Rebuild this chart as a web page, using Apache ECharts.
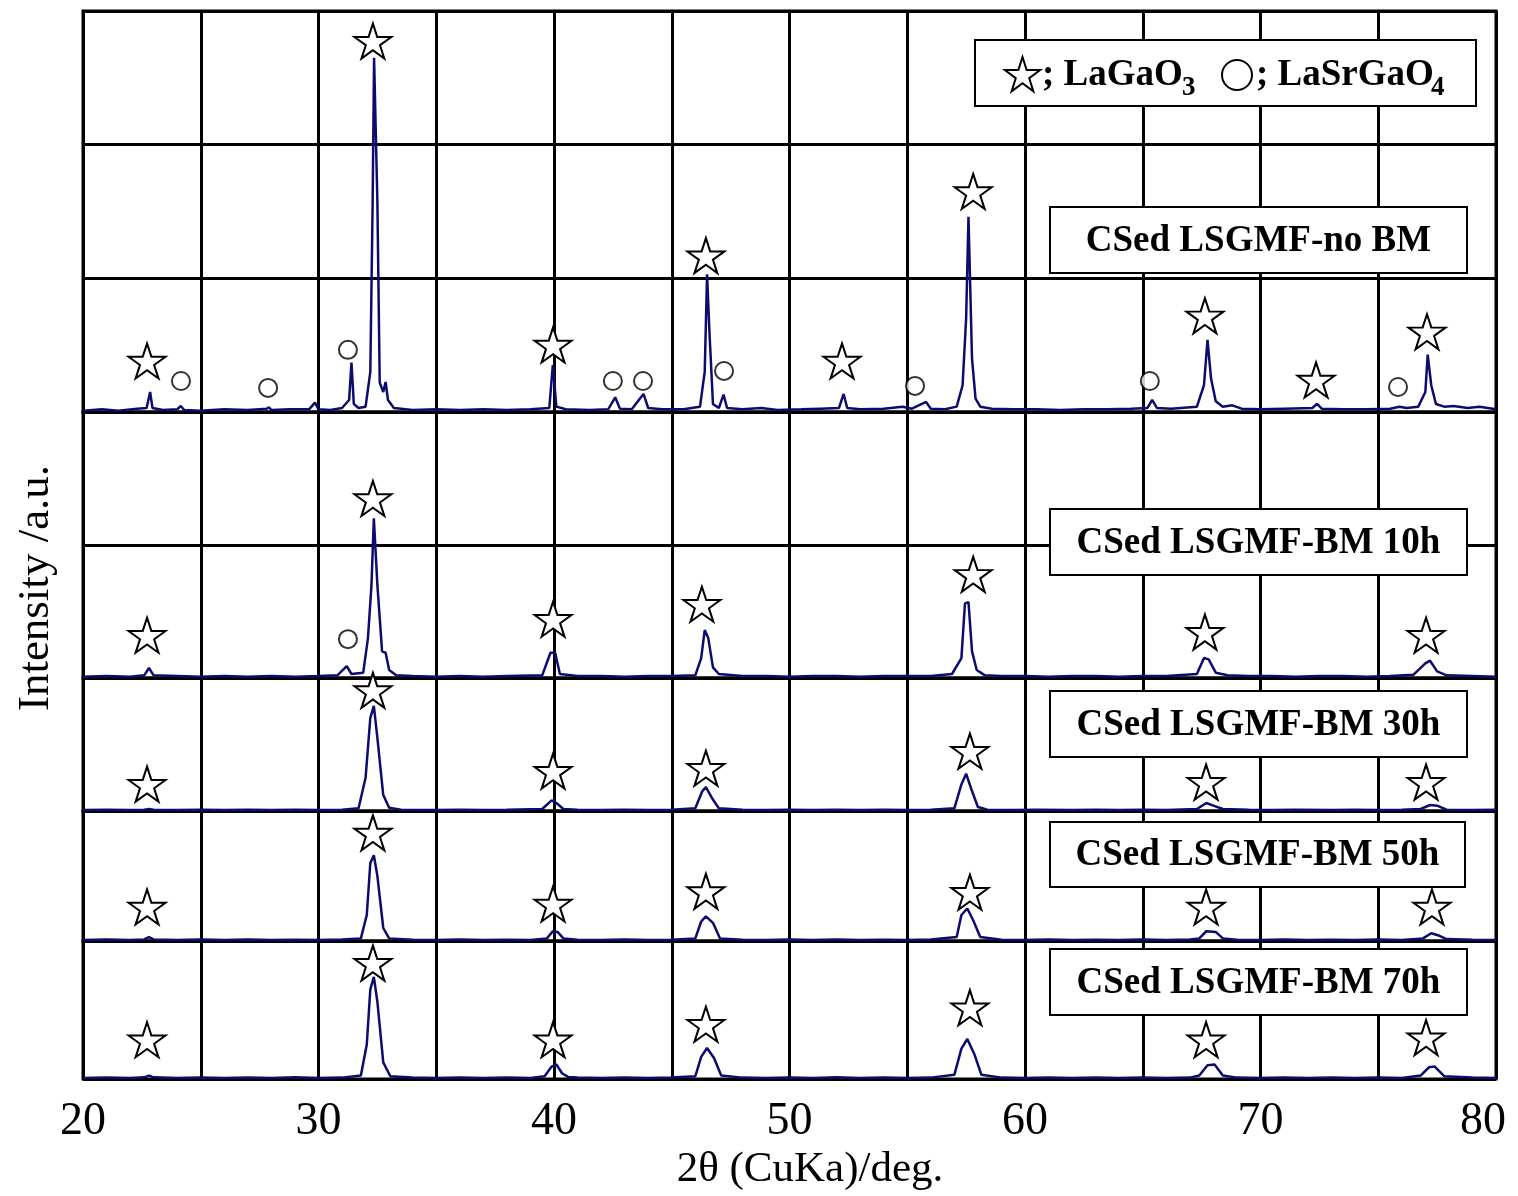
<!DOCTYPE html>
<html><head><meta charset="utf-8">
<script src="https://cdn.jsdelivr.net/npm/echarts@6/dist/echarts.min.js"></script>
<style>html,body{margin:0;padding:0;background:#fff}#c{width:1518px;height:1196px}</style>
</head><body><div id="c"></div>
<script>
// ---------- DATA ----------
const sampleNames = ['CSed LSGMF-no BM','CSed LSGMF-BM 10h','CSed LSGMF-BM 30h','CSed LSGMF-BM 50h','CSed LSGMF-BM 70h'];
const phaseNames = ['LaGaO', '3', 'LaSrGaO', '4'];
const xTickLabels = [20,30,40,50,60,70,80];
const yMaxes = [3000,2000,1000,1000,1000];

const patNoBM = [[20,10],[20.8,20],[21.5,10],[22.3,25],[22.7,30],[22.85,150],[22.95,30],[23.4,15],[24.0,20],[24.15,45],[24.3,15],[25,10],[26,20],[27,15],[27.8,25],[27.9,35],[28.0,15],[28.8,20],[29.6,20],[29.85,70],[30.0,20],[30.5,15],[31.0,30],[31.3,90],[31.4,370],[31.5,60],[31.7,30],[32.0,40],[32.2,300],[32.3,1575],[32.36,2650],[32.44,2650],[32.5,1575],[32.6,220],[32.75,150],[32.85,225],[32.95,90],[33.2,30],[34,15],[35,20],[36,15],[37,20],[38,15],[39,20],[39.8,30],[39.95,350],[40.1,40],[40.5,20],[41.5,15],[42.3,20],[42.6,110],[42.8,25],[43.3,20],[43.8,135],[44.0,30],[44.6,20],[45.5,20],[46.2,40],[46.4,300],[46.5,1030],[46.6,600],[46.75,60],[47.0,30],[47.2,130],[47.35,30],[48,20],[48.8,30],[49.5,15],[50.5,20],[51.3,25],[52.1,30],[52.3,135],[52.45,30],[53,20],[54,25],[54.8,40],[55.2,25],[55.8,75],[56.0,25],[56.6,20],[57.1,40],[57.35,200],[57.5,700],[57.6,1460],[57.75,400],[57.9,100],[58.1,40],[58.6,25],[59.5,20],[60.5,20],[61.5,15],[62.5,20],[63.5,20],[64.5,25],[65.2,30],[65.4,90],[65.6,30],[66.2,25],[67.3,40],[67.6,200],[67.75,540],[67.9,250],[68.1,80],[68.4,40],[68.8,50],[69.2,25],[70,20],[71,25],[72.2,30],[72.4,60],[72.6,25],[73.5,20],[74.5,20],[75.5,25],[75.9,40],[76.2,30],[76.7,40],[77.0,150],[77.1,430],[77.25,200],[77.45,60],[77.8,40],[78.2,45],[78.8,30],[79.3,40],[80,20]];
const patBM10 = [[20,10],[21,15],[22,10],[22.6,20],[22.8,75],[23.0,20],[24,15],[25,10],[26,15],[27,10],[28,15],[29,10],[30,15],[30.8,20],[31.2,90],[31.4,30],[31.9,40],[32.1,300],[32.25,700],[32.35,1200],[32.5,700],[32.7,200],[32.85,190],[33.0,60],[33.3,20],[34,15],[35,10],[36,15],[37,10],[38,15],[39.5,20],[39.85,190],[40.05,190],[40.25,30],[41,15],[42,15],[43,10],[44,15],[45,15],[46.0,20],[46.25,150],[46.4,360],[46.55,300],[46.75,80],[47.0,30],[48,15],[49,15],[50,10],[51,15],[52,15],[53,10],[54,15],[55,15],[56,15],[56.9,30],[57.3,150],[57.45,560],[57.6,570],[57.75,200],[57.95,60],[58.3,20],[59,15],[60,15],[61,10],[62,15],[63,15],[64,10],[65,15],[66,15],[67.3,30],[67.6,150],[67.8,140],[68.1,40],[68.6,20],[69.5,15],[70.5,15],[71.5,10],[72.5,15],[73.5,15],[74.5,10],[75.5,15],[76.5,25],[77.0,110],[77.2,130],[77.5,50],[77.9,20],[79,15],[80,10]];
const patBM30 = [[20,8],[21,10],[22,8],[22.6,10],[22.8,15],[23.0,10],[24,8],[25,10],[26,8],[27,10],[28,8],[29,10],[30,8],[31,10],[31.7,20],[32.0,250],[32.2,700],[32.35,790],[32.5,550],[32.75,120],[33.0,25],[33.5,10],[35,8],[36,10],[37,8],[38,10],[39.5,15],[39.9,80],[40.1,60],[40.4,15],[41,10],[42,8],[43,10],[44,8],[45,10],[46.0,20],[46.3,150],[46.45,180],[46.7,100],[47.0,20],[48,10],[49,8],[50,10],[51,8],[52,10],[53,8],[54,10],[55,8],[56,10],[57.0,20],[57.3,200],[57.5,280],[57.75,150],[58.0,30],[58.4,10],[59.5,8],[60.5,10],[62,8],[63,10],[64,8],[65,10],[66,8],[67.3,15],[67.7,60],[68.0,40],[68.4,15],[69.5,10],[70.5,8],[71.5,10],[73,8],[74,10],[75,8],[76,10],[76.8,15],[77.2,45],[77.5,40],[77.9,10],[79,8],[80,10]];
const patBM50 = [[20,8],[21,12],[22,8],[22.6,12],[22.8,30],[23.0,12],[24,8],[25,12],[26,8],[27,12],[28,8],[29,10],[30,8],[31,12],[31.8,20],[32.05,200],[32.2,600],[32.35,660],[32.5,500],[32.75,100],[33.0,20],[34,10],[35,8],[36,12],[37,8],[38,10],[39,8],[39.7,20],[39.95,75],[40.15,70],[40.4,20],[41,10],[42,8],[43,12],[44,8],[45,10],[46.0,20],[46.25,150],[46.45,190],[46.75,140],[47.05,20],[48,10],[49,8],[50,12],[51,8],[52,12],[53,8],[54,10],[55,8],[56,12],[57.1,30],[57.3,200],[57.55,250],[57.8,160],[58.1,30],[59,10],[60,8],[61,12],[62,8],[63,10],[64,8],[65,12],[66,8],[67,12],[67.4,20],[67.7,75],[68.1,70],[68.4,20],[69,10],[70,8],[71,12],[72,8],[73,10],[74,8],[75,12],[76,8],[76.9,20],[77.25,60],[77.6,40],[77.9,15],[79,10],[80,8]];
const patBM70 = [[20,8],[21,10],[22,8],[22.6,12],[22.8,25],[23.0,12],[24,8],[25,10],[26,8],[27,10],[28,8],[29,12],[30,8],[31,10],[31.8,25],[32.05,250],[32.2,650],[32.35,740],[32.5,560],[32.75,120],[33.05,20],[34,10],[35,8],[36,10],[37,8],[38,10],[39,8],[39.6,20],[39.9,90],[40.1,105],[40.35,40],[40.6,15],[41,10],[42,8],[43,10],[44,8],[45,10],[46.0,20],[46.25,160],[46.5,225],[46.8,150],[47.1,25],[48,10],[49,8],[50,10],[51,8],[52,12],[53,8],[54,10],[55,8],[56,10],[57.0,30],[57.3,220],[57.55,290],[57.85,180],[58.15,30],[59,10],[60,8],[61,10],[62,8],[63,10],[64,8],[65,10],[66,8],[67,10],[67.4,25],[67.75,100],[68.05,105],[68.4,25],[69,10],[70,8],[71,10],[72,8],[73,10],[74,8],[75,10],[76,8],[76.8,25],[77.15,85],[77.4,90],[77.8,20],[79,10],[80,8]];

// phase marker positions [2theta, height]
const starsNoBM = [[22.72,382],[32.31,2775],[39.96,502],[46.45,1170],[52.23,382],[57.8,1650],[67.64,720],[72.36,240],[77.07,600]];
const circlesNoBM = [[24.16,232],[27.86,180],[31.25,465],[42.5,232],[43.78,232],[47.22,307],[55.33,195],[65.3,232],[75.84,187]];
const starsBM10 = [[22.72,322],[32.31,1350],[39.96,442],[46.28,555],[57.8,780],[67.64,345],[77.03,322]];
const circlesBM10 = [[31.25,292]];
const starsBM30 = [[22.72,202],[32.31,907],[39.96,300],[46.45,322],[57.66,450],[67.69,217],[77.03,217]];
const starsBM50 = [[22.72,262],[32.31,832],[39.96,285],[46.45,382],[57.66,375],[67.69,262],[77.28,262]];
const starsBM70 = [[22.72,285],[32.31,840],[39.96,285],[46.45,397],[57.66,517],[67.69,285],[77.03,300]];

const patterns = [patNoBM, patBM10, patBM30, patBM50, patBM70];
const starSets = [starsNoBM, starsBM10, starsBM30, starsBM50, starsBM70];
const circleSets = [circlesNoBM, circlesBM10, [], [], []];

// ---------- LAYOUT ----------
const panels = [{top:11,height:401},{top:412,height:266},{top:678,height:133},{top:811,height:130},{top:941,height:138}];
const LEFT = 83, RIGHT = 22;
const FONT = '"Liberation Serif","Times New Roman",serif';
const LINE = '#0c0c70';
const STAR = 'path://M50,0L61.2,34.5L97.6,34.5L68.2,55.9L79.4,90.5L50,69.1L20.6,90.5L31.8,55.9L2.4,34.5L38.8,34.5Z';
const STAR_PTS = [[50,0],[61.2,34.5],[97.6,34.5],[68.2,55.9],[79.4,90.5],[50,69.1],[20.6,90.5],[31.8,55.9],[2.4,34.5],[38.8,34.5]];

const grids = [], xAxes = [], yAxes = [], series = [];
panels.forEach((p, i) => {
  grids.push({left: LEFT, right: RIGHT, top: p.top, height: p.height, show: true,
    borderColor: '#000', borderWidth: 3, backgroundColor: 'transparent', containLabel: false});
  const last = i === panels.length - 1;
  xAxes.push({type: 'value', gridIndex: i, min: 20, max: 80, interval: 5,
    axisLine: {show: false}, axisTick: {show: false},
    splitLine: {show: true, lineStyle: {color: '#000', width: 3}},
    axisLabel: {show: last, margin: 20, color: '#000', fontFamily: FONT, fontSize: 46,
      formatter: v => xTickLabels.indexOf(v) < 0 ? '' : (v === 80 ? '{m|' + v + '}' : String(v)),
      rich: {m: {fontFamily: FONT, fontSize: 46, color: '#000', padding: [0, 26, 0, 0]}}}
  });
  yAxes.push({type: 'value', gridIndex: i, min: 0, max: yMaxes[i], interval: 1000,
    axisLine: {show: false}, axisTick: {show: false}, axisLabel: {show: false},
    splitLine: {show: true, lineStyle: {color: '#000', width: 3}}});
  series.push({type: 'line', name: sampleNames[i], xAxisIndex: i, yAxisIndex: i, data: patterns[i],
    showSymbol: false, symbol: 'none', lineStyle: {color: LINE, width: 2.5}, z: 3, silent: true, animation: false});
  series.push({type: 'scatter', xAxisIndex: i, yAxisIndex: i, data: starSets[i], symbol: STAR,
    symbolSize: [37, 35], itemStyle: {color: '#fff', borderColor: '#000', borderWidth: 2, opacity: 1}, z: 5, silent: true, animation: false});
  if (circleSets[i].length) series.push({type: 'scatter', xAxisIndex: i, yAxisIndex: i, data: circleSets[i],
    symbol: 'circle', symbolSize: 18, itemStyle: {color: '#fff', borderColor: '#000', borderWidth: 2}, z: 5, silent: true, animation: false});
});

function box(x, y, w, h, text) {
  return {type: 'group', z: 10, children: [
    {type: 'rect', z: 10, shape: {x: x, y: y, width: w, height: h}, style: {fill: '#fff', stroke: '#000', lineWidth: 2}},
    {type: 'text', z: 11, style: {x: x + w / 2, y: y + h / 2 + 1, text: text, fill: '#000',
      font: 'bold 37px ' + FONT, textAlign: 'center', textVerticalAlign: 'middle', align: 'center', verticalAlign: 'middle'}}
  ]};
}
function txt(x, y, text, font, align, rot) {
  return {type: 'text', z: 11, x: x, y: y, rotation: rot || 0,
    style: {x: 0, y: 0, text: text, fill: '#000', font: font, textAlign: align || 'left', align: align || 'left',
      textVerticalAlign: 'middle', verticalAlign: 'middle'}};
}

const boxes = [
  [1050, 207, 417, 66], [1050, 509, 417, 66], [1050, 691, 417, 66], [1050, 822, 415, 65], [1050, 949, 417, 66]
];
const graphics = [];
graphics.push({type: 'rect', z: 10, shape: {x: 975, y: 40, width: 501, height: 66}, style: {fill: '#fff', stroke: '#000', lineWidth: 2}});
graphics.push({type: 'polygon', z: 11, shape: {points: STAR_PTS.map(p => [1004 + p[0] * 0.37, 57 + p[1] * 0.38])},
  style: {fill: '#fff', stroke: '#000', lineWidth: 2}});
graphics.push(txt(1042, 75, '; ' + phaseNames[0], 'bold 37px ' + FONT));
graphics.push(txt(1182, 88, phaseNames[1], 'bold 27px ' + FONT));
graphics.push({type: 'circle', z: 11, shape: {cx: 1237, cy: 75, r: 15}, style: {fill: '#fff', stroke: '#000', lineWidth: 2}});
graphics.push(txt(1256, 75, '; ' + phaseNames[2], 'bold 37px ' + FONT));
graphics.push(txt(1431, 88, phaseNames[3], 'bold 27px ' + FONT));
boxes.forEach((b, i) => graphics.push(box(b[0], b[1], b[2], b[3], sampleNames[i])));
graphics.push(txt(810, 1170, '2θ (CuKa)/deg.', '43px ' + FONT, 'center'));
graphics.push(txt(36, 588, 'Intensity /a.u.', '45px ' + FONT, 'center', Math.PI / 2));

const chart = echarts.init(document.getElementById('c'));
chart.setOption({animation: false, backgroundColor: '#fff', grid: grids, xAxis: xAxes, yAxis: yAxes, series: series, graphic: graphics});
</script></body></html>
